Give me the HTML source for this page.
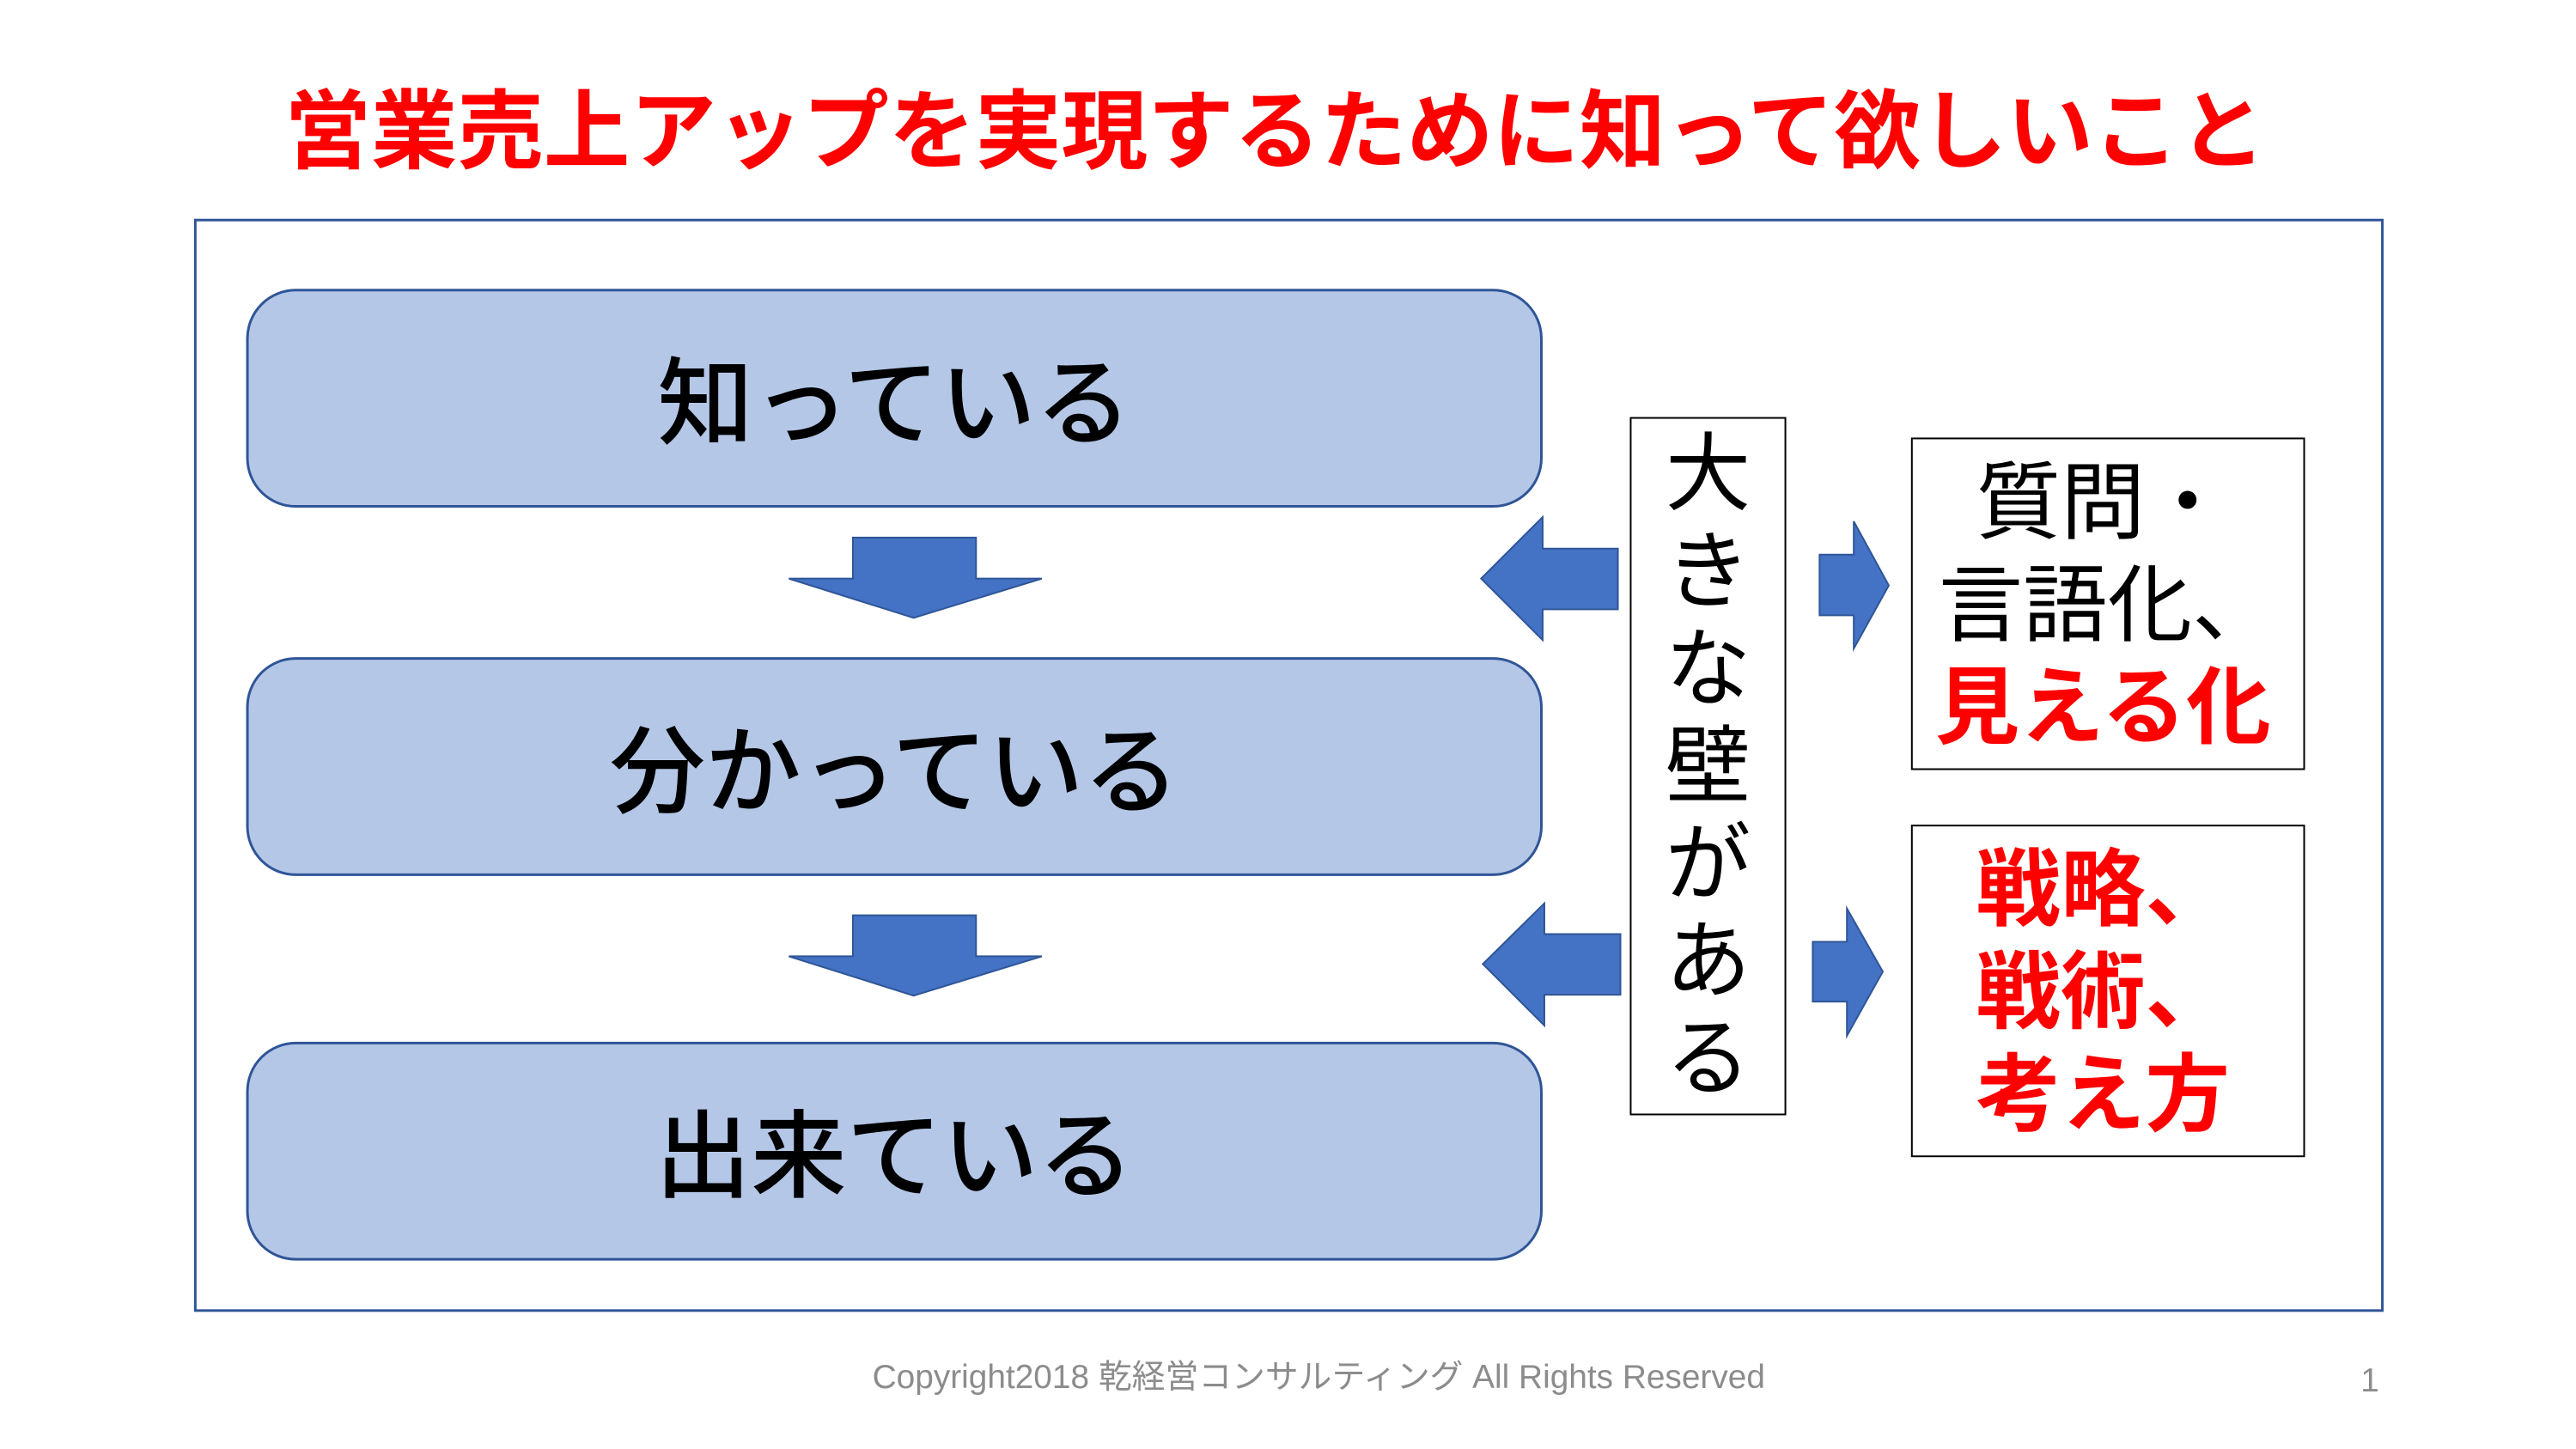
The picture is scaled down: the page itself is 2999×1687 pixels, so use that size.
<!DOCTYPE html>
<html><head><meta charset="utf-8"><style>
*{margin:0;padding:0;box-sizing:border-box}
body{width:2999px;height:1687px;background:#fff;position:relative;overflow:hidden;font-family:"Liberation Sans","Noto Sans CJK JP",sans-serif}
#w{position:absolute;left:0;top:0;width:2999px;height:1687px;transform:scale(0.995);transform-origin:0 0}
.a{position:absolute}
.title{left:0;width:2984px;top:90px;text-align:center;font-size:101px;line-height:130px;font-weight:700;color:#ff0000;white-space:nowrap}
.frame{left:227px;top:256px;width:2562px;height:1279px;border:3px solid #2f5597}
.box{left:288px;width:1517px;height:256px;background:#b4c7e7;border:3px solid #2f5597;border-radius:58px;display:flex;align-items:center;justify-content:center;font-size:112px;font-weight:500;color:#000;padding-bottom:6px}
.vbox{left:1907px;top:488px;width:183px;height:817px;border:2.5px solid #000}
.vc{position:absolute;left:0;width:100%;text-align:center;font-size:100px;line-height:110px;color:#000}
.rbox{left:2236px;width:461px;border:2.5px solid #000}
.t{position:absolute;font-size:99px;line-height:120px;white-space:nowrap}
.red{color:#ff0000;font-weight:700}
.foot{left:0;width:3086px;top:1580px;text-align:center;font-size:39px;color:#8c8c8c;white-space:nowrap}
</style></head><body><div id="w">
<div class="a title">営業売上アップを実現するために知って欲しいこと</div>
<div class="a frame"></div>
<div class="a box" style="top:338px">知っている</div>
<div class="a box" style="top:769px">分かっている</div>
<div class="a box" style="top:1219px">出来ている</div>
<svg class="a" style="left:0;top:0" width="2999" height="1687">
<g fill="#4472c4" stroke="#2f5597" stroke-width="2">
<polygon points="998,629 1142,629 1142,677 1219,677 1069,723 923,677 998,677"/>
<polygon points="998,1071 1142,1071 1142,1119 1219,1119 1069,1165 923,1119 998,1119"/>
<polygon points="1733,677 1805,605 1805,642 1893,642 1893,713 1805,713 1805,749"/>
<polygon points="1735,1128 1807,1057 1807,1093 1896,1093 1896,1164 1807,1164 1807,1200"/>
<polygon points="2129,649 2169,649 2169,610 2210,685 2169,759 2169,720 2129,720"/>
<polygon points="2121,1102 2161,1102 2161,1063 2203,1137 2161,1212 2161,1172 2121,1172"/>
</g></svg>
<div class="a vbox">
<div class="vc" style="top:10px">大</div>
<div class="vc" style="top:124px">き</div>
<div class="vc" style="top:238px">な</div>
<div class="vc" style="top:352px">壁</div>
<div class="vc" style="top:466px">が</div>
<div class="vc" style="top:580px">あ</div>
<div class="vc" style="top:694px">る</div>
</div>
<div class="a rbox" style="top:512px;height:389px">
<div class="t" style="left:74px;top:14px">質問・</div>
<div class="t" style="left:30px;top:134px">言語化、</div>
<div class="t red" style="left:26px;top:254px">見える化</div>
</div>
<div class="a rbox" style="top:965px;height:389px">
<div class="t red" style="left:74px;top:14px">戦略、</div>
<div class="t red" style="left:74px;top:134px">戦術、</div>
<div class="t red" style="left:74px;top:254px">考え方</div>
</div>
<div class="a foot">Copyright2018 乾経営コンサルティング All Rights Reserved</div>
<div class="a" style="left:2762px;top:1594px;font-size:39px;color:#8c8c8c">1</div>
</div></body></html>
